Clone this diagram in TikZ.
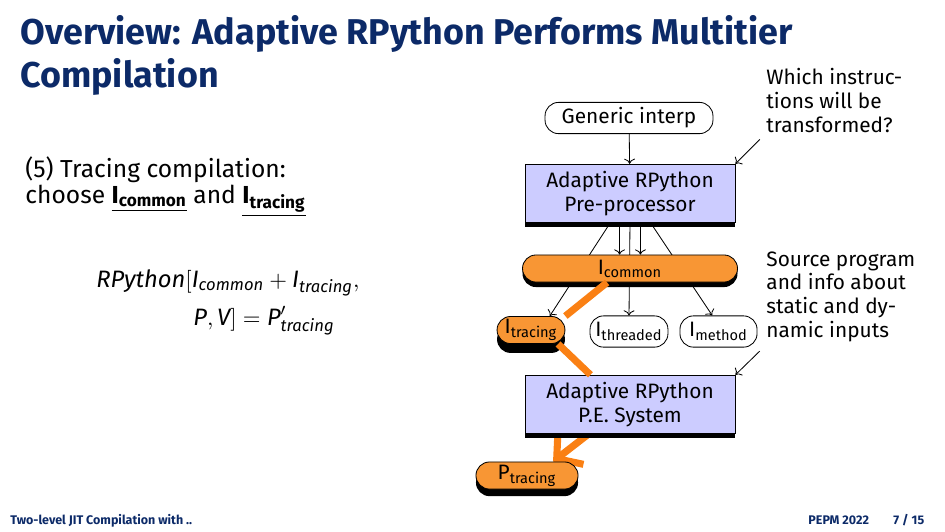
\documentclass[tikz,border=0pt]{standalone}
\usepackage{fontspec}
\usepackage{amsmath}
\setmainfont{Fira Sans}
\usetikzlibrary{shadows,arrows.meta}
\definecolor{navy}{RGB}{12,42,104}
\definecolor{lav}{RGB}{204,204,255}
\definecolor{orng}{RGB}{248,150,52}
\definecolor{hilite}{RGB}{250,128,20}
\pgfdeclarelayer{background}
\pgfsetlayers{background,main}
\begin{document}
\begin{tikzpicture}[x=0.48pt,y=-0.48pt,
  ttl/.style={anchor=base west,inner sep=0,text=navy,font=\fontsize{17.2}{21}\selectfont\bfseries},
  txt/.style={anchor=base west,inner sep=0,font=\fontsize{11.8}{14}\selectfont},
  lbl/.style={font=\fontsize{10}{11.5}\selectfont},
  note/.style={lbl,anchor=north west,inner sep=0,align=left},
  pill/.style={lbl,rectangle,rounded corners=6.5pt,draw,inner xsep=2pt,inner ysep=1pt,minimum height=15pt},
  blk/.style={lbl,rectangle,draw,fill=lav,align=center,minimum width=100.8pt,minimum height=27.4pt},
  sh/.style={general shadow={fill=black,shadow yshift=-#1}},
  hot/.style={line width=3.4pt,draw=hilite},
  foot/.style={anchor=base west,inner sep=0,text=navy,font=\fontsize{6}{7}\selectfont\bfseries}]
\useasboundingbox (0,0) rectangle (945,531);
\node[ttl] (t1) at (20,44) {Overview: Adaptive RPython Performs Multitier};
\node[ttl] (t2) at (20,87) {Compilation};
\node[txt] (l1) at (25,177) {(5) Tracing compilation:};
\node[txt] (l2) at (25,203) {choose \underline{\textbf{I}\textsubscript{\textbf{common}}} and \underline{\textbf{I}\textsubscript{\textbf{tracing}}}};
\node[txt,font=\fontsize{11.4}{14}\selectfont] (m1) at (96,287) {$\textit{RPython}[\textit{I}_{\textit{common}}+\textit{I}_{\textit{tracing}},$};
\node[txt,font=\fontsize{11.4}{14}\selectfont] (m2) at (193,325) {$\textit{P},\textit{V}]=\textit{P}'_{\textit{tracing}}$};
\node[pill,minimum width=80.6pt] (gen) at (629,118) {Generic interp};
\node[blk,sh=2pt] (pre) at (630,193.5) {Adaptive RPython\\Pre-processor};
\node[pill,fill=orng,minimum width=103.2pt,minimum height=13pt,sh=2.4pt] (com) at (630,268.5) {I\textsubscript{common}};
\node[pill,fill=orng,minimum width=32.6pt,minimum height=13pt,sh=4.5pt] (trc) at (531,330) {I\textsubscript{tracing}};
\node[pill,minimum width=37.4pt] (thr) at (629,331.5) {I\textsubscript{threaded}};
\node[pill,minimum width=37pt] (mth) at (718.5,331.5) {I\textsubscript{method}};
\node[blk,sh=2pt] (pes) at (630,404.5) {Adaptive RPython\\P.E. System};
\node[pill,fill=orng,minimum width=49pt,minimum height=13pt,sh=3.4pt] (ptr) at (527,475.5) {P\textsubscript{tracing}};
\node[note] (q1) at (766,68) {Which instruc-\\tions will be\\transformed?};
\node[note] (q2) at (766,251) {Source program\\and info about\\static and dy-\\namic inputs};
\draw[->] (gen) -- (pre);
\draw[->] ([xshift=-5pt]pre.south) -- ([xshift=-5pt]com.north);
\draw[->] ([xshift=5pt]pre.south) -- ([xshift=5pt]com.north);
\begin{pgfonlayer}{background}
\draw[->] ([xshift=-9.6pt]pre.south) -- ([xshift=9pt]trc.north);
\draw[->] (pre.south) -- (thr.north);
\draw[->] ([xshift=10pt]pre.south) -- ([xshift=-3pt]mth.north);
\draw[hot,-{Straight Barb[length=8.5pt,width=20pt]}] ([xshift=-20pt]pes.south) -- ([xshift=12.5pt]ptr.north);
\end{pgfonlayer}
\draw[hot] ([xshift=-11pt]com.south) -- (trc.north east);
\draw[hot] ([xshift=13pt]trc.south) -- ([xshift=-19pt]pes.north);
\draw[->] ([shift={(-3pt,-3pt)}]q1.south west) -- (pre.north east);
\draw[->] ([shift={(-3pt,-4pt)}]q2.south west) -- (pes.north east);
\node[foot] (f1) at (10,524) {Two-level JIT Compilation with ..};
\node[foot] (f2) at (808,524) {PEPM 2022};
\node[foot] (f3) at (893,524) {7 / 15};
\end{tikzpicture}
\end{document}
